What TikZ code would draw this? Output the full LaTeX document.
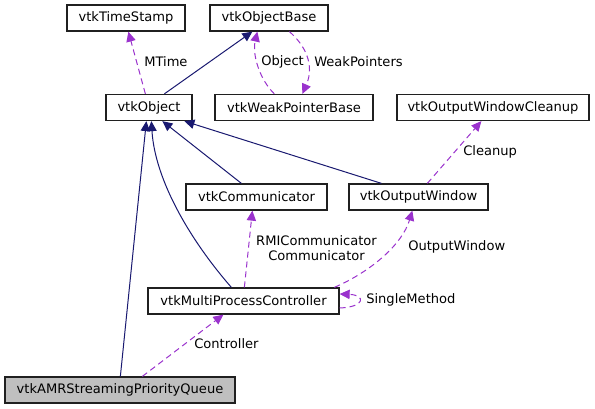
\documentclass[tikz,border=0pt]{standalone}
\usepackage{fontspec}
\setmainfont{DejaVu Sans}
\usetikzlibrary{arrows.meta,calc}
\definecolor{edgeblue}{HTML}{191970}
\definecolor{edgepurple}{HTML}{9A32CD}
\definecolor{boxline}{HTML}{202020}
\definecolor{boxfill}{HTML}{BFBFBF}
\begin{document}
\begin{tikzpicture}[x=0.75pt,y=-0.75pt,
  font=\fontsize{9.8}{11.6}\selectfont,
  cls/.style={draw=boxline, line width=0.95pt, minimum height=19.5pt, inner sep=0pt, fill=white},
  inh/.style={draw=edgeblue, line width=0.75pt, -{Triangle[length=7.5pt,width=7pt]}},
  use/.style={draw=edgepurple, line width=0.75pt, dash pattern=on 4.5pt off 3pt, -{Triangle[length=7.5pt,width=7pt]}},
  lbl/.style={anchor=west, inner sep=0pt, text=black}]
\useasboundingbox (0,0) rectangle (595,409);

\node[cls, minimum width=88.5pt] (ts) at (126,18) {vtkTimeStamp};
\node[cls, minimum width=88.5pt] (ob) at (269,18) {vtkObjectBase};
\node[cls, minimum width=64.5pt] (o) at (149,107.5) {vtkObject};
\node[cls, minimum width=118.5pt] (wpb) at (294,107.5) {vtkWeakPointerBase};
\node[cls, minimum width=144pt] (owc) at (493,107.5) {vtkOutputWindowCleanup};
\node[cls, minimum width=105.75pt] (comm) at (256.5,197) {vtkCommunicator};
\node[cls, minimum width=104.25pt] (ow) at (418.5,197) {vtkOutputWindow};
\node[cls, minimum width=143.25pt] (mpc) at (243.5,301) {vtkMultiProcessController};
\node[cls, minimum width=172.5pt, fill=boxfill] (amr) at (120,390) {vtkAMRStreamingPriorityQueue};

% inheritance
\draw[inh] ($(o.north west)+(59,0)$) -- ($(ob.south west)+(43,0)$);
\draw[inh] ($(comm.north west)+(56,0)$) -- ($(o.south west)+(57,0)$);
\draw[inh] ($(ow.north west)+(33,0)$) -- ($(o.south west)+(79,0)$);
\draw[inh] ($(mpc.north west)+(84,0)$) .. controls (190,240) and (155,180) .. ($(o.south west)+(46,0)$);
\draw[inh] ($(amr.north west)+(116,0)$) -- ($(o.south west)+(41,0)$);

% usage
\draw[use] ($(o.north west)+(40,0)$) -- ($(ts.south west)+(62,0)$);
\node[lbl] (lmtime) at (144,62) {MTime};

\draw[use] ($(wpb.north west)+(60,0)$) .. controls (260,80) and (252,55) .. ($(ob.south west)+(48,0)$);
\node[lbl] (lobject) at (261,62) {Object};

\draw[use] ($(ob.south west)+(80,0)$) .. controls (305,45) and (315,65) .. ($(wpb.north west)+(88,0)$);
\node[lbl] (lweak) at (314,62) {WeakPointers};

\draw[use] ($(ow.north west)+(79,0)$) -- ($(owc.south west)+(85,0)$);
\node[lbl] (lcleanup) at (463,152) {Cleanup};

\draw[use] ($(mpc.north west)+(97,0)$) -- ($(comm.south west)+(67,0)$);
\node[inner sep=0pt, align=center] (lcomm) at (316.5,248) {RMICommunicator\\Communicator};

\draw[use] ($(mpc.north west)+(187,0)$) .. controls (370,272) and (402,245) .. ($(ow.south west)+(64,0)$);
\node[lbl] (low) at (408,247) {OutputWindow};

\draw[use] ($(mpc.east)+(0,7)$) .. controls +(26,-1) and +(26,1) .. ($(mpc.east)+(0,-7)$);
\node[lbl] (lsingle) at (366,300) {SingleMethod};

\draw[use] ($(amr.north west)+(138,0)$) -- ($(mpc.south west)+(76,0)$);
\node[lbl] (lcontroller) at (194,344) {Controller};
\end{tikzpicture}
\end{document}
